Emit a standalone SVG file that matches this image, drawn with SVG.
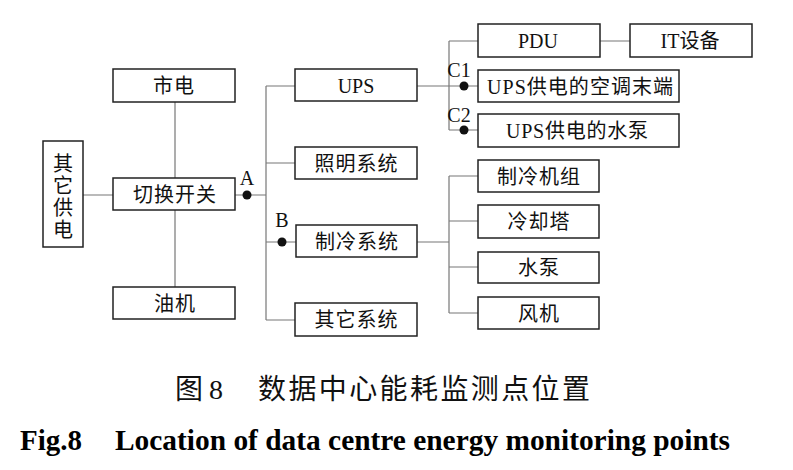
<svg xmlns="http://www.w3.org/2000/svg" width="793" height="470" viewBox="0 0 793 470">
<style>
.box{fill:#fff;stroke:#222;stroke-width:1.5}
.lbl{font-family:"Noto Sans CJK SC",sans-serif;font-size:20px;fill:#111;text-anchor:middle}
.vt{font-family:"Noto Sans CJK SC",sans-serif;font-size:20px;fill:#111;writing-mode:vertical-rl;letter-spacing:2px}
.lat{font-family:"Liberation Serif",serif}
.pt{font-family:"Liberation Serif",serif;font-size:20px;fill:#111;text-anchor:middle}
.ln{stroke:#777;stroke-width:1.2;fill:none}
.dot{fill:#111}
</style>
<rect width="793" height="470" fill="#fff"/>
<g id="connectors">
<path class="ln" d="M175,102V178M175,210V287M83,195H113M235,195H266M266,86V320M266,86H295M266,163H295M266,242H296M266,320H295"/>
<path class="ln" d="M417,86H478M449,41V130M449,41H478M449,130H478M600,41H630"/>
<path class="ln" d="M417,242H449M449,176V313M449,176H478M449,221H478M449,267H478M449,313H478"/>
<circle class="dot" cx="247" cy="195" r="4.5"/>
<circle class="dot" cx="282" cy="242" r="4.5"/>
<circle class="dot" cx="464" cy="86" r="4.5"/>
<circle class="dot" cx="464" cy="130" r="4.5"/>
<text class="pt" x="247" y="185">A</text>
<text class="pt" x="282" y="227">B</text>
<text class="pt" x="459" y="77">C1</text>
<text class="pt" x="459" y="122">C2</text>
</g>
<g id="shidian"><rect class="box" x="113" y="69" width="122" height="33"/><text class="lbl" x="174" y="93" letter-spacing="1">市电</text></g>
<g id="qitagongdian"><rect class="box" x="43" y="141" width="40" height="106"/>
<text class="vt" x="63" y="153">其它供电</text></g>
<g id="qiehuan"><rect class="box" x="113" y="178" width="122" height="32"/><text class="lbl" x="175" y="201.5" letter-spacing="1">切换开关</text></g>
<g id="youji"><rect class="box" x="113" y="287" width="122" height="32"/><text class="lbl" x="175" y="310.5" letter-spacing="1">油机</text></g>
<g id="ups"><rect class="box" x="295" y="69" width="122" height="32"/><text class="lbl lat" x="356" y="92.5">UPS</text></g>
<g id="zhaoming"><rect class="box" x="295" y="147" width="122" height="32"/><text class="lbl" x="356.5" y="170.5" letter-spacing="1">照明系统</text></g>
<g id="zhileng"><rect class="box" x="296" y="225" width="121" height="32"/><text class="lbl" x="357" y="248.5" letter-spacing="1">制冷系统</text></g>
<g id="qitaxitong"><rect class="box" x="295" y="303" width="122" height="33"/><text class="lbl" x="356.5" y="327" letter-spacing="1">其它系统</text></g>
<g id="pdu"><rect class="box" x="478" y="24" width="122" height="33"/><text class="lbl lat" x="538" y="48">PDU</text></g>
<g id="it"><rect class="box" x="630" y="24" width="122" height="33"/><text class="lbl" x="690" y="48"><tspan class="lat">IT</tspan>设备</text></g>
<g id="kongtiao"><rect class="box" x="478" y="70" width="201" height="32"/><text class="lbl" x="580" y="93.5" textLength="186" lengthAdjust="spacing"><tspan class="lat">UPS</tspan>供电的空调末端</text></g>
<g id="upsshuibeng"><rect class="box" x="478" y="114" width="201" height="33"/><text class="lbl" x="577" y="138" textLength="142" lengthAdjust="spacing"><tspan class="lat">UPS</tspan>供电的水泵</text></g>
<g id="zhilengjizu"><rect class="box" x="478" y="160" width="121" height="32"/><text class="lbl" x="539" y="183.5" letter-spacing="1">制冷机组</text></g>
<g id="lengqueta"><rect class="box" x="478" y="205" width="121" height="33"/><text class="lbl" x="539" y="229" letter-spacing="1">冷却塔</text></g>
<g id="shuibeng"><rect class="box" x="478" y="252" width="121" height="31"/><text class="lbl" x="539" y="275" letter-spacing="1">水泵</text></g>
<g id="fengji"><rect class="box" x="478" y="297" width="121" height="32"/><text class="lbl" x="539" y="320.5" letter-spacing="1">风机</text></g>
<g id="caption">
<text x="175" y="399" font-family="Noto Sans CJK SC,sans-serif" font-size="28" fill="#111">图</text>
<text x="209" y="399" font-family="Liberation Serif,serif" font-size="28" fill="#111">8</text>
<text x="258" y="399" font-family="Noto Sans CJK SC,sans-serif" font-size="28" fill="#111" textLength="332" lengthAdjust="spacing">数据中心能耗监测点位置</text>
<text x="20" y="450" font-family="Liberation Serif,serif" font-size="29" font-weight="bold" fill="#000" textLength="62" lengthAdjust="spacingAndGlyphs">Fig.8</text>
<text x="115" y="450" font-family="Liberation Serif,serif" font-size="29" font-weight="bold" fill="#000" textLength="615" lengthAdjust="spacingAndGlyphs">Location of data centre energy monitoring points</text>
</g>
</svg>
